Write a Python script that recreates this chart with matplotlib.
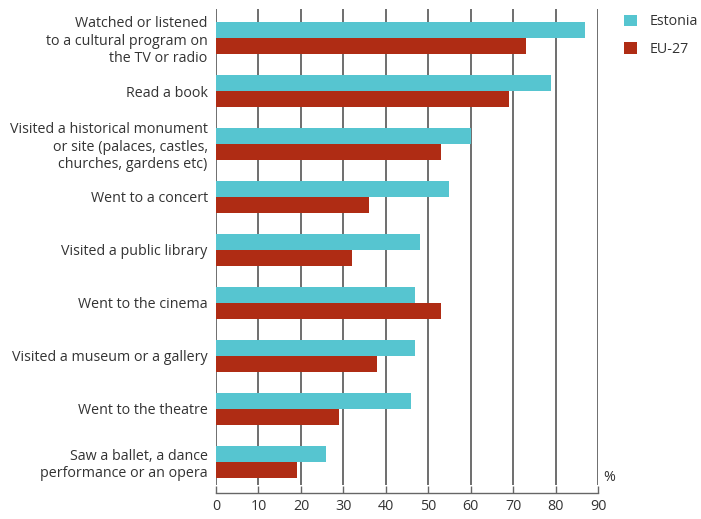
import numpy as np
import matplotlib
matplotlib.use("Agg")
import matplotlib.pyplot as plt
from matplotlib.patches import Patch

plt.rcParams['font.family'] = ['Open Sans', 'DejaVu Sans']

categories = [
    "Watched or listened\nto a cultural program on\nthe TV or radio",
    "Read a book",
    "Visited a historical monument\nor site (palaces, castles,\nchurches, gardens etc)",
    "Went to a concert",
    "Visited a public library",
    "Went to the cinema",
    "Visited a museum or a gallery",
    "Went to the theatre",
    "Saw a ballet, a dance\nperformance or an opera",
]
estonia = [87, 79, 60, 55, 48, 47, 47, 46, 26]
eu27 = [73, 69, 53, 36, 32, 53, 38, 29, 19]
x_ticks = [0, 10, 20, 30, 40, 50, 60, 70, 80, 90]

c_est = '#56C5D0'
c_eu = '#AF2C14'
text_col = '#333333'

fig = plt.figure(figsize=(7.01, 5.19), dpi=100)
ax = fig.add_axes([216 / 701, 1 - 485 / 519, (598 - 216) / 701, (485 - 9) / 519])

y = np.arange(len(categories))
h = 0.3
ax.barh(y - h / 2, estonia, height=h, color=c_est, zorder=3)
ax.barh(y + h / 2, eu27, height=h, color=c_eu, zorder=3)

ax.set_xlim(0, 90)
ax.set_ylim(len(categories) - 1 + 0.44, -0.55)
ax.set_xticks(x_ticks)
ax.set_yticks(y)
ax.set_yticklabels(categories, fontsize=10.3, color=text_col, linespacing=1.22, ha='right')
for lbl in ax.get_yticklabels():
    lbl.set_multialignment('right')
ax.tick_params(axis='y', length=0, pad=6)
ax.tick_params(axis='x', direction='in', length=5, width=1, color='#666666',
               labelsize=10.3, labelcolor=text_col, pad=4)

for v in x_ticks:
    ax.axvline(v, color='#555555', linewidth=1.2, zorder=1)

for s in ['top', 'right', 'left']:
    ax.spines[s].set_visible(False)
ax.spines['bottom'].set_position(('outward', 6))
ax.spines['bottom'].set_color('#666666')
ax.spines['bottom'].set_linewidth(1)

ax.text(1.015, 0.0, '%', transform=ax.transAxes, fontsize=10.3, color=text_col, va='bottom', ha='left')

handles = [Patch(facecolor=c_est, label='Estonia'), Patch(facecolor=c_eu, label='EU-27')]
ax.legend(handles=handles, loc='upper left', bbox_to_anchor=(1.043, 1.01), frameon=False,
          handlelength=0.85, handleheight=0.85, handletextpad=0.9, labelspacing=0.9,
          fontsize=10.3, labelcolor=text_col, borderaxespad=0.3)

fig.savefig('out.png', dpi=100)
